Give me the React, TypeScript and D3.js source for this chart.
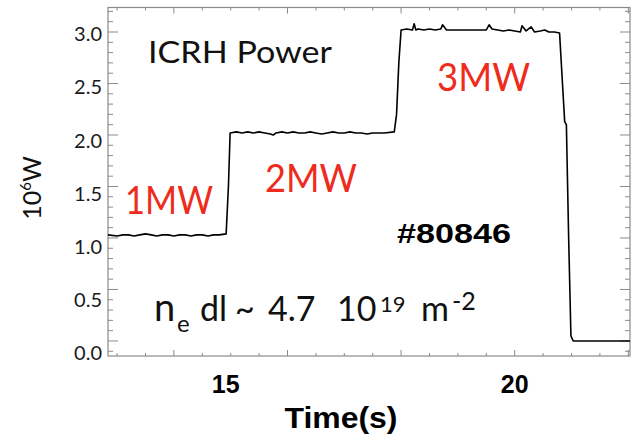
import React from "react";
import * as d3 from "d3";

// ---- data ----
const timeS: number[] = [
  12.84, 13.0, 13.1, 13.2, 13.3, 13.4, 13.5, 13.6, 13.7, 13.8, 13.9, 14.0, 14.1, 14.2, 14.3, 14.4, 14.5, 14.6, 14.7, 14.8, 14.92,
  14.96, 14.99,
  15.1, 15.2, 15.3, 15.4, 15.5, 15.6, 15.7, 15.75, 15.8, 15.9, 16.0, 16.1, 16.2, 16.3, 16.4, 16.5, 16.6, 16.7, 16.8, 16.9, 17.0, 17.1, 17.2, 17.3, 17.4, 17.5, 17.6, 17.7, 17.88,
  17.92, 17.96, 18.0,
  18.1, 18.2, 18.23, 18.26, 18.3, 18.4, 18.5, 18.6, 18.7, 18.73, 18.8, 18.9, 19.0, 19.1, 19.2, 19.3, 19.4, 19.5, 19.55, 19.6, 19.7, 19.8, 19.9, 20.0, 20.1, 20.13, 20.2, 20.29, 20.35, 20.45, 20.53, 20.6, 20.7, 20.79,
  20.88, 20.91, 20.95, 20.99, 21.03, 21.5, 22.03,
];
const powerMW: number[] = [
  1.03, 1.02, 1.03, 1.03, 1.02, 1.03, 1.04, 1.03, 1.02, 1.03, 1.03, 1.02, 1.03, 1.03, 1.02, 1.03, 1.03, 1.02, 1.03, 1.03, 1.04,
  1.5, 2.02,
  2.03, 2.02, 2.03, 2.02, 2.03, 2.02, 2.01, 2.0, 2.02, 2.03, 2.02, 2.03, 2.02, 2.02, 2.03, 2.02, 2.01, 2.02, 2.03, 2.02, 2.02, 2.03, 2.02, 2.02, 2.01, 2.02, 2.02, 2.02, 2.03,
  2.2, 2.7, 3.02,
  3.03, 3.02, 3.08, 3.02, 3.03, 3.02, 3.03, 3.02, 3.03, 3.07, 3.02, 3.02, 3.02, 3.02, 3.02, 3.02, 3.02, 3.02, 3.07, 3.03, 3.02, 3.01, 3.02, 3.01, 3.0, 3.06, 3.01, 3.05, 3.0, 3.01, 3.02, 3.0, 3.0, 2.99,
  2.13, 2.1, 1.0, 0.05, 0.0, 0.0, 0.0,
];
const yTickLabels: number[] = [0, 0.5, 1.0, 1.5, 2.0, 2.5, 3.0];
const xTickLabels: number[] = [15, 20];
const stepLabels: string[] = ["1MW", "2MW", "3MW"];

const W = 633;
const H = 441;
const L = 108, R = 630, T = 7.5, B = 356;

export default function App() {
  const x = d3.scaleLinear().domain([12.84, 22.03]).range([L, R]);
  const y = d3.scaleLinear().domain([-0.146, 3.238]).range([B, T]);
  // tick labels in the picture sit on a slightly different grid than the ticks
  const yLab = d3.scaleLinear().domain([0, 3]).range([353, 34]);

  const pts: [number, number][] = timeS.map((t, i) => [t, powerMW[i]]);
  const line = d3
    .line<[number, number]>()
    .x((d) => x(d[0]))
    .y((d) => y(d[1]));

  const yMinor = d3.range(-1, 33).map((k) => k / 10);
  const xMinor = d3.range(26, 45).map((k) => k / 2);

  const frame = "#8a8a8a";
  const red = "#ee2b1c";
  const sans = "Lato, 'Open Sans', sans-serif";
  const bold = "'Liberation Sans', Arial, sans-serif";

  return (
    <svg width={W} height={H} style={{ position: "absolute", left: 0, top: 0, background: "#fff" }}>
      <rect x={0} y={0} width={W} height={H} fill="#fff" />
      {/* y ticks, left and right */}
      {yMinor.map((v) => {
        const major = Math.abs(Math.round(v * 10) % 5) === 0;
        const len = major ? 10 : 5;
        return (
          <g key={"yt" + v} stroke={frame} strokeWidth={1}>
            <line x1={L} x2={L + len} y1={y(v)} y2={y(v)} />
            <line x1={R} x2={R - len} y1={y(v)} y2={y(v)} />
          </g>
        );
      })}
      {/* x ticks, bottom and top */}
      {xMinor.map((v) => {
        const major = v % 2 === 0;
        const len = major ? 6 : 3;
        return (
          <g key={"xt" + v} stroke={frame} strokeWidth={1}>
            <line x1={x(v)} x2={x(v)} y1={B} y2={B - len} />
            <line x1={x(v)} x2={x(v)} y1={T} y2={T + len} />
          </g>
        );
      })}
      <rect x={L} y={T} width={R - L} height={B - T} fill="none" stroke={frame} strokeWidth={1.2} />

      {/* y tick labels */}
      {yTickLabels.map((v) => (
        <text
          key={"yl" + v}
          x={102}
          y={yLab(v)}
          dy="0.36em"
          textAnchor="end"
          fontFamily={sans}
          fontSize={20}
          fill="#1a1a1a"
        >
          {v.toFixed(1)}
        </text>
      ))}
      {/* x tick labels */}
      {xTickLabels.map((v) => (
        <text
          key={"xl" + v}
          x={x(v) - (v === 15 ? 5 : 0)}
          y={393}
          textAnchor="middle"
          fontFamily={bold}
          fontWeight="bold"
          fontSize={25}
          fill="#000"
        >
          {v}
        </text>
      ))}
      <text x={341} y={428} textAnchor="middle" fontFamily={bold} fontWeight="bold" fontSize={30} fill="#000" textLength={113} lengthAdjust="spacingAndGlyphs">
        Time(s)
      </text>
      <text
        transform="translate(41,188) rotate(-90)"
        textAnchor="middle"
        fontFamily={sans}
        fontSize={25}
        fill="#111"
      >
        <tspan>10</tspan>
        <tspan dy={-10} fontSize={15}>6</tspan>
        <tspan dy={10}>W</tspan>
      </text>

      {/* trace */}
      <path d={line(pts) || ""} fill="none" stroke="#000" strokeWidth={1.6} strokeLinejoin="round" />

      {/* annotations */}
      <text x={148} y={63} fontFamily={sans} fontSize={30} fill="#111" textLength={184} lengthAdjust="spacingAndGlyphs">
        ICRH Power
      </text>
      <text x={125} y={214} fontFamily={sans} fontSize={38} fill={red} textLength={88} lengthAdjust="spacingAndGlyphs">
        {stepLabels[0]}
      </text>
      <text x={265} y={192} fontFamily={sans} fontSize={38} fill={red} textLength={92} lengthAdjust="spacingAndGlyphs">
        {stepLabels[1]}
      </text>
      <text x={437} y={91} fontFamily={sans} fontSize={38} fill={red} textLength={93} lengthAdjust="spacingAndGlyphs">
        {stepLabels[2]}
      </text>
      <text x={397} y={243} fontFamily={bold} fontWeight="bold" fontSize={28} fill="#000" textLength={114} lengthAdjust="spacingAndGlyphs">
        #80846
      </text>
      <text y={321} fontFamily={sans} fontSize={34} fill="#111">
        <tspan x={154} fontSize={38}>n</tspan>
        <tspan x={177} dy={11} fontSize={24}>e</tspan>
        <tspan x={200} dy={-11}>dl</tspan>
        <tspan x={235}>~</tspan>
        <tspan x={268}>4.7</tspan>
        <tspan x={337}>10</tspan>
        <tspan x={380} dy={-9} fontSize={22}>19</tspan>
        <tspan x={421} dy={9}>m</tspan>
        <tspan x={452} dy={-11} fontSize={25}>-2</tspan>
      </text>
    </svg>
  );
}
